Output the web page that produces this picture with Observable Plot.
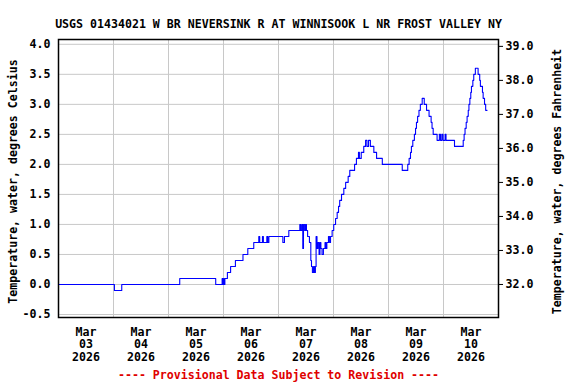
<!DOCTYPE html>
<html><head><meta charset="utf-8">
<script src="https://cdn.jsdelivr.net/npm/d3@7"></script>
<script src="https://cdn.jsdelivr.net/npm/@observablehq/plot@0.6"></script>
<style>body{margin:0;background:#fff}</style>
</head><body><div id="chart"></div>
<script>
const title = "USGS 01434021 W BR NEVERSINK R AT WINNISOOK L NR FROST VALLEY NY";
const yLabelLeft = "Temperature, water, degrees Celsius";
const yLabelRight = "Temperature, water, degrees Fahrenheit";
const caption = "---- Provisional Data Subject to Revision ----";

const days = ["2026-03-03","2026-03-04","2026-03-05","2026-03-06","2026-03-07","2026-03-08","2026-03-09","2026-03-10"];
const dayLabels = ["Mar\n03\n2026","Mar\n04\n2026","Mar\n05\n2026","Mar\n06\n2026","Mar\n07\n2026","Mar\n08\n2026","Mar\n09\n2026","Mar\n10\n2026"];
const celsiusTicks = [-0.5, 0.0, 0.5, 1.0, 1.5, 2.0, 2.5, 3.0, 3.5, 4.0];
const fahrenheitTicks = [32, 33, 34, 35, 36, 37, 38, 39];

// hours since 2026-03-03 00:00 at which the reading changes, and the reading (deg C)
const obsHours = [0, 24.4, 27.6, 52.9, 68.6, 71.4, 71.7, 72.0, 72.3, 72.6, 73.7, 75.1, 77.2, 80.5, 82.6, 85.2,
  87.4, 87.8, 89.0, 89.4, 90.9, 91.3, 91.8, 97.9, 98.6, 100.5, 105.3, 105.7, 106.2, 106.6, 106.9,
  107.4, 107.8, 108.2, 108.7, 109.5, 110.1, 110.4, 110.8, 111.3, 111.7, 112.1, 112.4, 112.8, 113.2, 113.7,
  114.1, 114.5, 115.0, 115.6, 116.3, 116.7, 117.1, 117.8, 118.3, 118.7, 119.4, 120.1, 120.9, 121.6, 122.2,
  122.7, 123.5, 124.5, 125.3, 126.4, 127.1, 129.2, 130.0, 130.9, 131.3, 132.1, 133.2, 134.0, 134.6, 135.3,
  136.1, 137.6, 138.8, 141.3, 150.0, 152.4, 153.0, 153.6, 154.0, 154.6, 155.3, 155.8, 156.2, 156.7, 157.3,
  157.9, 158.7, 159.6, 160.6, 161.7, 162.6, 163.0, 163.5, 165.2, 166.2, 166.7, 167.3, 167.8, 168.7, 169.1,
  172.8, 176.6, 177.0, 177.4, 177.9, 178.3, 178.8, 179.1, 179.5, 179.9, 180.2, 180.8, 181.2, 181.9, 183.1,
  183.8, 184.1, 185.0, 185.3, 185.9, 186.4, 187.0];
const tempC = [0.0, -0.1, 0.0, 0.1, 0.0, 0.1, 0.0, 0.1, 0.0, 0.1, 0.2, 0.3, 0.4, 0.5, 0.6, 0.7,
  0.8, 0.7, 0.8, 0.7, 0.8, 0.7, 0.8, 0.7, 0.8, 0.9, 1.0, 0.9, 1.0, 0.6, 1.0,
  0.9, 1.0, 0.9, 0.8, 0.7, 0.4, 0.3, 0.2, 0.3, 0.2, 0.3, 0.8, 0.6, 0.7, 0.5,
  0.7, 0.6, 0.5, 0.6, 0.7, 0.6, 0.7, 0.8, 0.7, 0.8, 0.9, 1.0, 1.1, 1.2, 1.3,
  1.4, 1.5, 1.6, 1.7, 1.8, 1.9, 2.0, 2.1, 2.2, 2.1, 2.2, 2.3, 2.4, 2.3, 2.4,
  2.3, 2.2, 2.1, 2.0, 1.9, 2.0, 2.1, 2.2, 2.3, 2.4, 2.5, 2.6, 2.7, 2.8, 2.9,
  3.0, 3.1, 3.0, 2.9, 2.8, 2.7, 2.6, 2.5, 2.4, 2.5, 2.4, 2.5, 2.4, 2.5, 2.4,
  2.3, 2.4, 2.5, 2.6, 2.7, 2.8, 2.9, 3.0, 3.1, 3.2, 3.3, 3.4, 3.5, 3.6, 3.5,
  3.4, 3.3, 3.2, 3.1, 3.0, 2.9, 2.9];

const t0 = Date.UTC(2026, 2, 3);
const series = obsHours.map((h, i) => ({date: new Date(t0 + h * 3600e3), value: tempC[i]}));
const dayStart = days.map(d => new Date(d + "T00:00:00Z"));
const noons = dayStart.map(d => new Date(+d + 12 * 3600e3));
const midnights = dayStart.slice(1);
const endDate = new Date(+dayStart[dayStart.length - 1] + 24 * 3600e3);
// secondary (Fahrenheit) axis as drawn by the source: ~0.5665 deg C per tick step
const fTicksC = fahrenheitTicks.map(f => (f - 32) * 0.5665);
const fLabel = c => (Math.round(c / 0.5665) + 32).toFixed(1);
const labelRows = noons.map((d, i) => ({date: d, label: dayLabels[i]}));

const font = "DejaVu Sans Mono";
const fs = 11.6;

const chart = Plot.plot({
  width: 576,
  height: 384,
  marginLeft: 58,
  marginRight: 78,
  marginTop: 39,
  marginBottom: 67,
  style: {fontFamily: font, fontSize: fs + "px", fontWeight: "bold", background: "#fff", color: "#000"},
  x: {type: "utc", domain: [dayStart[0], endDate], axis: null},
  y: {domain: [-0.55, 4.08], axis: null},
  marks: [
    Plot.ruleY(celsiusTicks, {stroke: "#c8c8c8", strokeWidth: 1}),
    Plot.ruleX(midnights, {stroke: "#c8c8c8", strokeWidth: 1}),
    Plot.line(series, {x: "date", y: "value", stroke: "#0000ff", strokeWidth: 1.1, curve: "step-after"}),
    Plot.frame({stroke: "#000", strokeWidth: 1.5}),
    Plot.axisY(celsiusTicks, {anchor: "left", tickSize: 0, tickPadding: 8, tickFormat: d => d.toFixed(1), label: null, fontSize: fs, fontWeight: "bold"}),
    Plot.axisY(fTicksC, {anchor: "right", tickSize: 4, tickPadding: 3, tickFormat: fLabel, label: null, stroke: "#000", fontSize: fs, fontWeight: "bold"}),
    Plot.text(labelRows, {x: "date", text: "label", frameAnchor: "bottom", lineAnchor: "top", dy: 9, lineHeight: 1.1, fontSize: fs, fontWeight: "bold", fill: "#000"}),
    Plot.text([title], {frameAnchor: "top", dy: -20, fontSize: fs, fontWeight: "bold", fill: "#000"}),
    Plot.text([yLabelLeft], {frameAnchor: "left", textAnchor: "middle", dx: -45, dy: 3, rotate: -90, fontSize: fs, fontWeight: "bold", fill: "#000"}),
    Plot.text([yLabelRight], {frameAnchor: "right", textAnchor: "middle", dx: 59, dy: 3, rotate: -90, fontSize: fs, fontWeight: "bold", fill: "#000"}),
    Plot.text([caption], {frameAnchor: "bottom", dy: 61, fontSize: fs, fontWeight: "bold", fill: "#e00000"})
  ]
});
document.getElementById("chart").appendChild(chart);
</script>
</body></html>
